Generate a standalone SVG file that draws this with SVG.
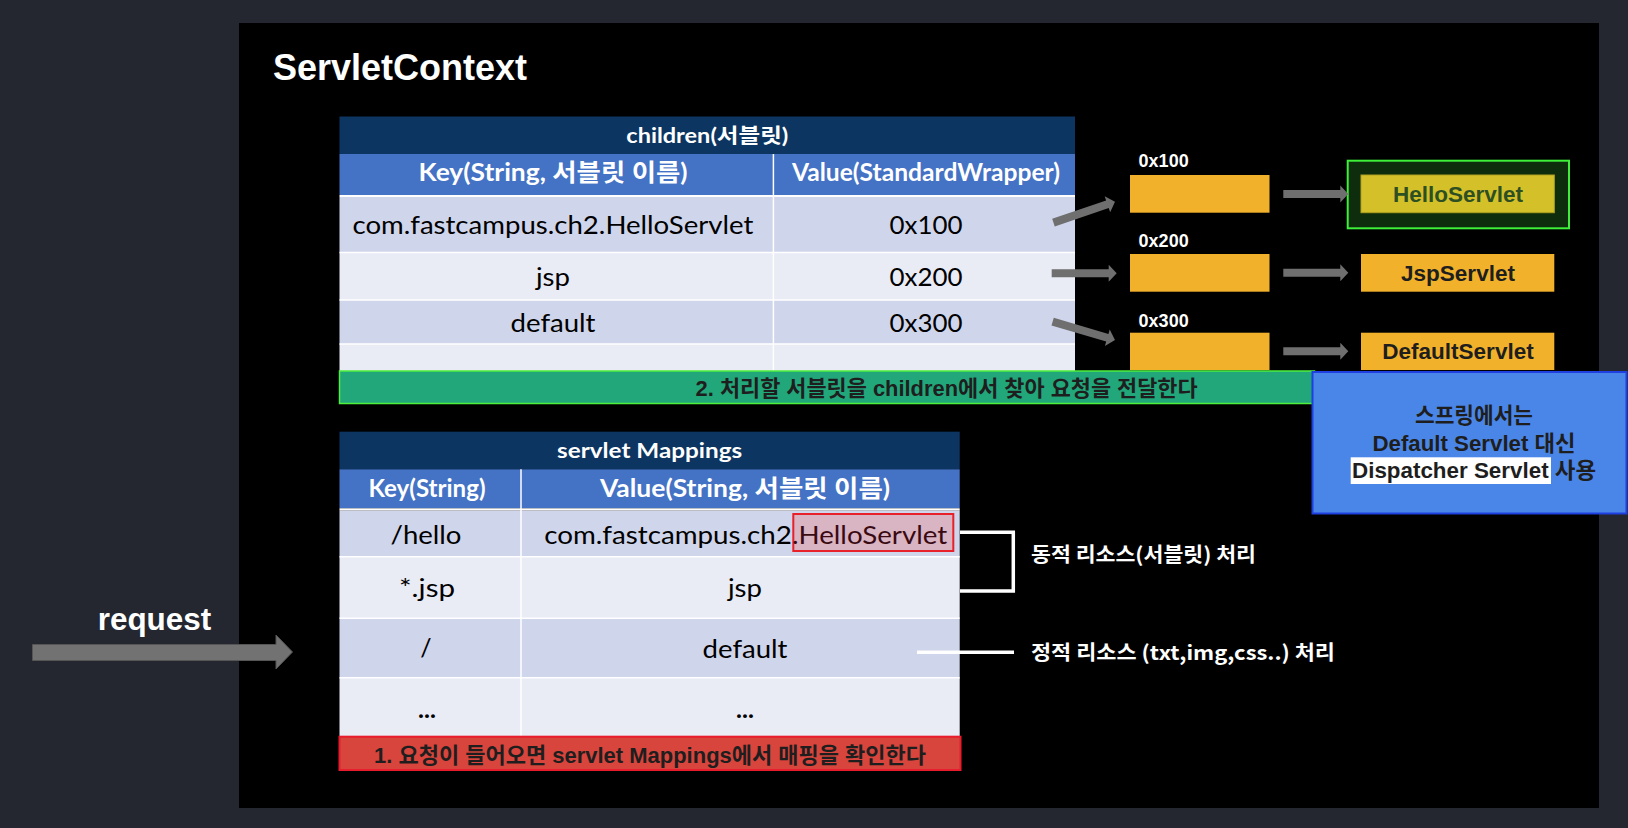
<svg xmlns="http://www.w3.org/2000/svg" width="1628" height="828" viewBox="0 0 1628 828">
<style>
.hd{font-family:Lato,"Noto Sans CJK KR",sans-serif;font-weight:700;fill:#fff;text-anchor:middle}
.cell{font-family:Lato,"Noto Sans CJK KR",sans-serif;fill:#000;text-anchor:middle;font-size:25px}
.ar{font-family:"Liberation Sans",Arial,"Noto Sans CJK KR",sans-serif;font-weight:700}
.kr{font-family:"Liberation Sans",Arial,"Noto Sans CJK KR",sans-serif;font-weight:700;font-size:22px;fill:#1e1e1e}
.side{font-family:"Noto Sans CJK KR",sans-serif;font-weight:700;font-size:20px;fill:#fff}
.navy{fill:#0c3561}
.blue{fill:#4472c4}
.r1{fill:#cfd5ea}
.r2{fill:#e9ebf5}
.sep{stroke:#fff;stroke-width:1.5;fill:none}
.mem{fill:#f2b12b}
.arrow{fill:#6f6f6f}
.wl{stroke:#fff;stroke-width:3.5;fill:none}
</style>
<defs>
<path id="sa" d="M-65,-4 L-8,-4 L-8,-8.5 L0,0 L-8,8.5 L-8,4 L-65,4 Z"/>
</defs>
<rect x="0" y="0" width="1628" height="828" fill="#24272f"/>
<rect id="panel" x="239" y="23" width="1360" height="785" fill="#000"/>
<text id="title" x="273" y="80" class="ar" font-size="36" fill="#fff">ServletContext</text>

<g id="children-table">
<rect class="navy" x="339.5" y="116.5" width="735.5" height="37.5"/>
<rect class="blue" x="339.5" y="154" width="735.5" height="41"/>
<rect fill="#fff" x="339.5" y="195" width="735.5" height="2"/>
<rect class="r1" x="339.5" y="197" width="735.5" height="55.5"/>
<rect class="r2" x="339.5" y="252.5" width="735.5" height="47.5"/>
<rect class="r1" x="339.5" y="300" width="735.5" height="44"/>
<rect class="r2" x="339.5" y="344" width="735.5" height="27"/>
<path class="sep" d="M773.4,154 V371 M339.5,252.5 H1075 M339.5,300 H1075 M339.5,344 H1075"/>
<text class="hd" x="707.3" y="143" font-size="20" textLength="162" lengthAdjust="spacingAndGlyphs">children(서블릿)</text>
<text class="hd" x="553" y="181" font-size="24" textLength="269" lengthAdjust="spacingAndGlyphs">Key(String, 서블릿 이름)</text>
<text class="hd" x="926" y="181" font-size="24" textLength="268" lengthAdjust="spacingAndGlyphs">Value(StandardWrapper)</text>
<text class="cell" x="553" y="234" textLength="401" lengthAdjust="spacingAndGlyphs">com.fastcampus.ch2.HelloServlet</text>
<text class="cell" x="926" y="234" textLength="73" lengthAdjust="spacingAndGlyphs">0x100</text>
<text class="cell" x="553" y="286" textLength="34" lengthAdjust="spacingAndGlyphs">jsp</text>
<text class="cell" x="926" y="286" textLength="73" lengthAdjust="spacingAndGlyphs">0x200</text>
<text class="cell" x="553" y="332" textLength="85" lengthAdjust="spacingAndGlyphs">default</text>
<text class="cell" x="926" y="332" textLength="73" lengthAdjust="spacingAndGlyphs">0x300</text>
</g>

<g id="step2-bar">
<rect x="339.5" y="371" width="975" height="32.5" fill="#22a77b" stroke="#4ef03c" stroke-width="1.5"/>
<text class="kr" x="695.6" y="396" textLength="502" lengthAdjust="spacingAndGlyphs">2. 처리할 서블릿을 children에서 찾아 요청을 전달한다</text>
</g>

<g id="mem-0x100">
<text class="ar" x="1138.6" y="166.7" font-size="18" fill="#fff">0x100</text>
<rect class="mem" x="1130" y="175" width="139.5" height="37.7"/>
</g>
<g id="mem-0x200">
<text class="ar" x="1138.6" y="246.7" font-size="18" fill="#fff">0x200</text>
<rect class="mem" x="1130" y="254" width="139.5" height="37.7"/>
</g>
<g id="mem-0x300">
<text class="ar" x="1138.6" y="327.3" font-size="18" fill="#fff">0x300</text>
<rect class="mem" x="1130" y="332.7" width="139.5" height="37.3"/>
</g>

<g id="hello-servlet">
<rect x="1347.7" y="160.7" width="221.3" height="67.6" fill="#0e2d0c" stroke="#3ef03a" stroke-width="2"/>
<rect x="1361" y="175" width="193.3" height="37.7" fill="#d4c12a" stroke="#b0a020" stroke-width="1"/>
<text class="ar" x="1458" y="201.7" font-size="22.5" fill="#2d4f22" text-anchor="middle">HelloServlet</text>
</g>
<g id="jsp-servlet">
<rect class="mem" x="1361" y="254" width="193.3" height="37.7"/>
<text class="ar" x="1458" y="280.7" font-size="22.5" fill="#1e1e1e" text-anchor="middle">JspServlet</text>
</g>
<g id="default-servlet">
<rect class="mem" x="1361" y="332.7" width="193.3" height="37.3"/>
<text class="ar" x="1458" y="359" font-size="22.5" fill="#1e1e1e" text-anchor="middle">DefaultServlet</text>
</g>

<g id="spring-note">
<rect x="1312.5" y="372" width="314" height="141.5" fill="#4a86e8" stroke="#1f3fe0" stroke-width="2"/>
<rect x="1350.7" y="457.3" width="200.3" height="26.7" fill="#fff"/>
<text class="kr" x="1474" y="423.3" text-anchor="middle" textLength="118" lengthAdjust="spacingAndGlyphs">스프링에서는</text>
<text class="kr" x="1474" y="450.7" text-anchor="middle" textLength="203" lengthAdjust="spacingAndGlyphs">Default Servlet 대신</text>
<text class="kr" x="1352" y="478.3" textLength="244" lengthAdjust="spacingAndGlyphs">Dispatcher Servlet 사용</text>
</g>

<g id="mappings-table">
<rect class="navy" x="339.5" y="431.7" width="620.2" height="37.6"/>
<rect class="blue" x="339.5" y="469.3" width="620.2" height="39"/>
<rect fill="#fff" x="339.5" y="508.3" width="620.2" height="2.4"/>
<rect class="r1" x="339.5" y="510.7" width="620.2" height="46"/>
<rect class="r2" x="339.5" y="556.7" width="620.2" height="61.6"/>
<rect class="r1" x="339.5" y="618.3" width="620.2" height="59.4"/>
<rect class="r2" x="339.5" y="677.7" width="620.2" height="58.3"/>
<path class="sep" d="M521,469.3 V736 M339.5,556.7 H959.7 M339.5,618.3 H959.7 M339.5,677.7 H959.7"/>
<rect x="793.3" y="514" width="160" height="37" fill="#d9b4c3" stroke="#e8202a" stroke-width="2"/>
<text class="hd" x="649.6" y="458.3" font-size="20" textLength="185" lengthAdjust="spacingAndGlyphs">servlet Mappings</text>
<text class="hd" x="427" y="497" font-size="24" textLength="117" lengthAdjust="spacingAndGlyphs">Key(String)</text>
<text class="hd" x="745" y="497" font-size="24" textLength="290" lengthAdjust="spacingAndGlyphs">Value(String, 서블릿 이름)</text>
<text class="cell" x="426" y="544" textLength="71" lengthAdjust="spacingAndGlyphs">/hello</text>
<text class="cell" x="745.8" y="544" textLength="403" lengthAdjust="spacingAndGlyphs">com.fastcampus.ch2<tspan fill="#3a0a12">.HelloServlet</tspan></text>
<text class="cell" x="427" y="597" textLength="56" lengthAdjust="spacingAndGlyphs">*.jsp</text>
<text class="cell" x="745" y="597" textLength="34" lengthAdjust="spacingAndGlyphs">jsp</text>
<text class="cell" x="426" y="657">/</text>
<text class="cell" x="745" y="658" textLength="85" lengthAdjust="spacingAndGlyphs">default</text>
<text class="cell" x="427" y="718" font-weight="700">...</text>
<text class="cell" x="745" y="718" font-weight="700">...</text>
</g>

<g id="step1-bar">
<rect x="339.5" y="736.7" width="621" height="33.3" fill="#d8453d" stroke="#e81c2c" stroke-width="2"/>
<text class="kr" x="374" y="762.7" textLength="552" lengthAdjust="spacingAndGlyphs">1. 요청이 들어오면 servlet Mappings에서 매핑을 확인한다</text>
</g>

<g id="dynamic-label">
<text class="side" x="1031" y="562" textLength="225" lengthAdjust="spacingAndGlyphs">동적 리소스(서블릿) 처리</text>
</g>
<g id="static-label">
<text class="side" x="1031" y="660" textLength="304" lengthAdjust="spacingAndGlyphs">정적 리소스 (txt,img,css..) 처리</text>
</g>
<g id="request-label">
<text class="ar" x="97.7" y="630" font-size="31" fill="#fff" textLength="113.5" lengthAdjust="spacingAndGlyphs">request</text>
</g>

<g id="connectors">
<use href="#sa" class="arrow" transform="translate(1115,201.7) rotate(-18.8)"/>
<use href="#sa" class="arrow" transform="translate(1116.7,273.3)"/>
<use href="#sa" class="arrow" transform="translate(1115,340) rotate(16.4)"/>
<use href="#sa" class="arrow" transform="translate(1348.3,194)"/>
<use href="#sa" class="arrow" transform="translate(1348.3,272.8)"/>
<use href="#sa" class="arrow" transform="translate(1348.3,351.3)"/>
<path d="M32.5,644.5 H276 V635 L292.5,652 L276,669 V660.5 H32.5 Z" fill="#727272" stroke="#555" stroke-width="1"/>
<path class="wl" d="M960,532.3 H1013.3 V591 H960"/>
<path class="wl" d="M917,652.3 H1014"/>
</g>
</svg>
